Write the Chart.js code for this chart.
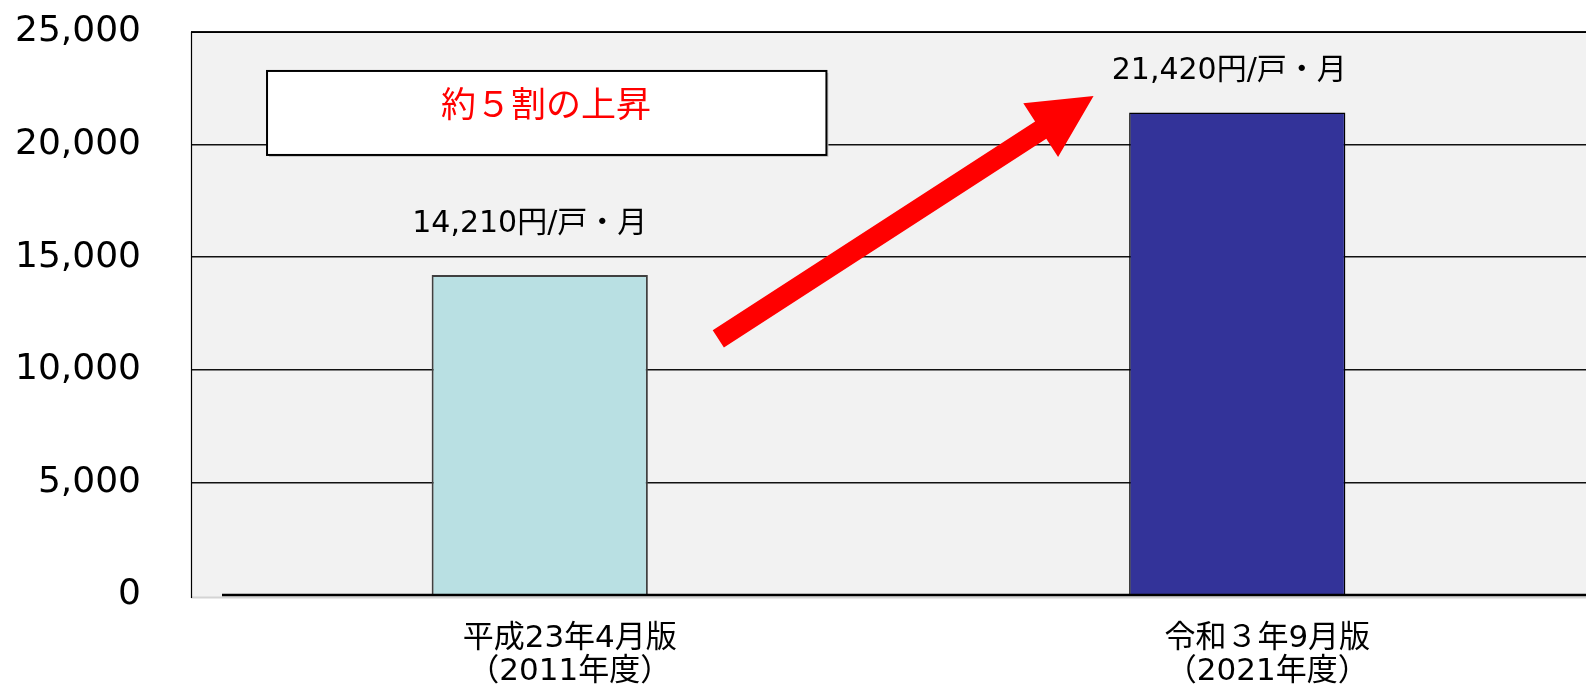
<!DOCTYPE html>
<html lang="ja">
<head>
<meta charset="utf-8">
<title>水道料金の比較</title>
<script src="https://cdn.jsdelivr.net/npm/chart.js@4/dist/chart.umd.min.js"></script>
<style>
    html, body { margin: 0; padding: 0; background: #ffffff; }
    #wrap { width: 1588px; height: 686px; position: relative; }
</style>
</head>
<body>
<div id="wrap"><canvas id="costChart"></canvas></div>
<script>
// Data
const categories = [
    ['平成23年4月版', '（2011年度）'],
    ['令和３年9月版', '（2021年度）']
];
const costValues = [14210, 21420];
const valueUnit = '円/戸・月';
const yTickValues = [0, 5000, 10000, 15000, 20000, 25000];
const noteText = '約５割の上昇';

const FONT = '"DejaVu Sans", "Noto Sans CJK JP", sans-serif';

// gray plot area
const plotBackground = {
    id: 'plotBackground',
    beforeDraw(chart) {
        const { ctx, chartArea: a } = chart;
        ctx.save();
        ctx.fillStyle = '#f2f2f2';
        ctx.fillRect(a.left, a.top, a.right - a.left, a.bottom - a.top + 3);
        ctx.restore();
    }
};

// left/top frame and the zero line
const plotFrame = {
    id: 'plotFrame',
    afterDatasetsDraw(chart) {
        const { ctx, chartArea: a, scales } = chart;
        const y0 = scales.y.getPixelForValue(0);
        ctx.save();
        ctx.strokeStyle = '#d4d4d4';
        ctx.lineWidth = 2;
        ctx.beginPath();
        ctx.moveTo(a.left, y0 + 2.5);
        ctx.lineTo(a.right, y0 + 2.5);
        ctx.stroke();

        ctx.strokeStyle = '#000';
        ctx.lineWidth = 1.2;
        ctx.beginPath();
        ctx.moveTo(a.left + 0.5, y0 + 3);
        ctx.lineTo(a.left + 0.5, a.top + 0.5);
        ctx.lineTo(a.right, a.top + 0.5);
        ctx.stroke();

        ctx.lineWidth = 2.5;
        ctx.beginPath();
        ctx.moveTo(a.left + 31, y0);
        ctx.lineTo(a.right, y0);
        ctx.stroke();
        ctx.restore();
    }
};

// value labels above bars
const barLabels = {
    id: 'barLabels',
    afterDatasetsDraw(chart, args, opts) {
        const { ctx } = chart;
        const meta = chart.getDatasetMeta(0);
        ctx.save();
        ctx.font = '30px ' + FONT;
        ctx.fillStyle = '#000';
        ctx.textAlign = 'center';
        ctx.textBaseline = 'middle';
        meta.data.forEach((bar, i) => {
            const text = costValues[i].toLocaleString('en-US') + valueUnit;
            ctx.fillText(text, bar.x + opts.dx[i], bar.y + opts.dy[i]);
        });
        ctx.restore();
    }
};

// note box and red arrow
const noteAndArrow = {
    id: 'noteAndArrow',
    afterDatasetsDraw(chart, args, opts) {
        const { ctx, scales } = chart;
        const px = v => scales.x.getPixelForValue(v);
        const py = v => scales.y.getPixelForValue(v);

        const b = opts.box;
        const l = px(b.x0), r = px(b.x1), t = py(b.y1), btm = py(b.y0);
        ctx.save();
        ctx.fillStyle = '#c8c8c8';
        ctx.fillRect(l + 2, t + 2, r - l, btm - t);
        ctx.fillStyle = '#ffffff';
        ctx.fillRect(l, t, r - l, btm - t);
        ctx.strokeStyle = '#000';
        ctx.lineWidth = 2;
        ctx.strokeRect(l, t, r - l, btm - t);
        ctx.font = '35px "Noto Sans CJK JP", sans-serif';
        ctx.fillStyle = '#ff0000';
        ctx.textAlign = 'center';
        ctx.textBaseline = 'middle';
        ctx.fillText(noteText, px(b.tx), py(b.ty));

        const ar = opts.arrow;
        const x1 = px(ar.from[0]), y1 = py(ar.from[1]);
        const x2 = px(ar.to[0]), y2 = py(ar.to[1]);
        const len = Math.hypot(x2 - x1, y2 - y1);
        const ux = (x2 - x1) / len, uy = (y2 - y1) / len;
        const nx = -uy, ny = ux;
        const hw = 10.3, hl = 63, hh = 32;
        const bx = x2 - ux * hl, by = y2 - uy * hl;
        ctx.fillStyle = '#ff0000';
        ctx.beginPath();
        ctx.moveTo(x1 + nx * hw, y1 + ny * hw);
        ctx.lineTo(bx + nx * hw, by + ny * hw);
        ctx.lineTo(bx + nx * hh, by + ny * hh);
        ctx.lineTo(x2, y2);
        ctx.lineTo(bx - nx * hh, by - ny * hh);
        ctx.lineTo(bx - nx * hw, by - ny * hw);
        ctx.lineTo(x1 - nx * hw, y1 - ny * hw);
        ctx.closePath();
        ctx.fill();
        ctx.restore();
    }
};

new Chart(document.getElementById('costChart'), {
    type: 'bar',
    data: {
        labels: categories,
        datasets: [{
            data: costValues,
            backgroundColor: ['#b9e0e3', '#333399'],
            borderColor: ['#404040', '#000000'],
            borderWidth: [2, 1.5],
            categoryPercentage: 1,
            barPercentage: 0.31
        }]
    },
    options: {
        responsive: true,
        maintainAspectRatio: false,
        animation: false,
        layout: { padding: { top: 32, right: 2, left: 0, bottom: 0 } },
        plugins: {
            legend: { display: false },
            tooltip: { enabled: false },
            barLabels: { dx: [-10, -8], dy: [-51, -41] },
            noteAndArrow: {
                box: { x0: -0.391, x1: 0.411, y0: 19540, y1: 23270, tx: 0.009, ty: 21800 },
                arrow: { from: [0.256, 11370], to: [0.794, 22160] }
            }
        },
        scales: {
            x: {
                grid: { display: false },
                border: { display: false },
                ticks: {
                    color: '#000',
                    font: { family: FONT, size: 31, lineHeight: 1.07 },
                    padding: 19,
                    labelOffset: 30,
                    maxRotation: 0,
                    autoSkip: false
                },
                afterFit(s) { s.height = 91; }
            },
            y: {
                min: 0,
                max: 25000,
                afterBuildTicks(s) { s.ticks = yTickValues.map(v => ({ value: v })); },
                grid: {
                    color: ctx => (ctx.tick && ctx.tick.value === 0) ? 'rgba(0,0,0,0)' : '#111111',
                    lineWidth: 1.6,
                    drawTicks: true,
                    tickLength: 50,
                    tickColor: 'rgba(0,0,0,0)'
                },
                border: { display: false },
                ticks: {
                    color: '#000',
                    font: { family: FONT, size: 36 },
                    padding: 0,
                    callback: v => v.toLocaleString('en-US')
                },
                afterFit(s) { s.width = 191; }
            }
        }
    },
    plugins: [plotBackground, plotFrame, barLabels, noteAndArrow]
});
</script>
</body>
</html>
